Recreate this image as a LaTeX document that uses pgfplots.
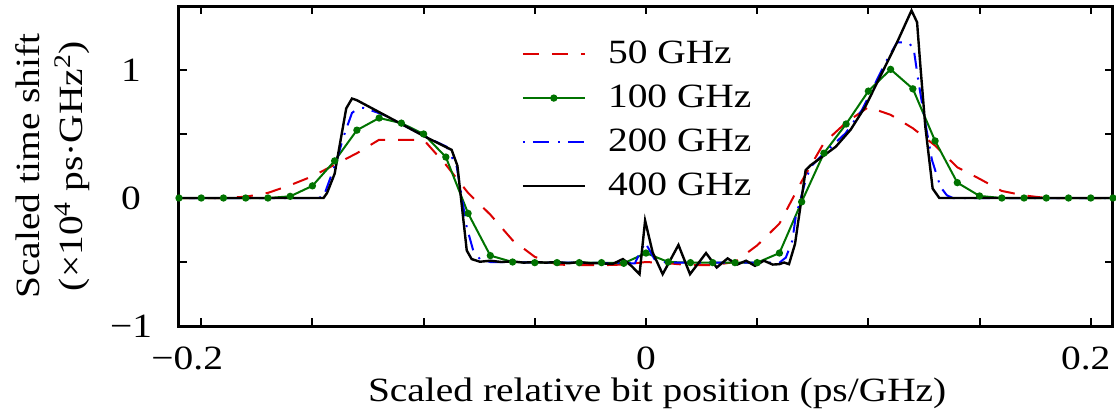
\documentclass[border=0pt]{standalone}
\usepackage{fontspec}
\setmainfont{Liberation Serif}[FakeStretch=1.16]
\usepackage{pgfplots}
\pgfplotsset{compat=1.18}
\definecolor{cred}{RGB}{220,0,0}
\definecolor{cgreen}{RGB}{0,115,0}
\definecolor{cblue}{RGB}{0,0,255}
\begin{document}
\begin{tikzpicture}
\path[use as bounding box] (-89.5pt,-44pt) rectangle (468.5pt,163pt);
\begin{axis}[
  scale only axis, width=467pt, height=160pt,
  xmin=-0.21, xmax=0.21, ymin=-1, ymax=1.5,
  font=\rmfamily\fontsize{17}{21.5}\selectfont,
  axis line style={line width=1.5pt},
  every tick/.style={black, line width=1pt},
  major tick length=4pt,
  tick align=inside,
  xtick={-0.2,-0.15,-0.1,-0.05,0,0.05,0.1,0.15,0.2},
  xticklabels={\hspace*{-7pt}−0.2\hspace*{7pt},,,,0,,,,\hspace*{-2.5pt}0.2\hspace*{2.5pt}},
  ytick={-1,-0.5,0,0.5,1},
  yticklabels={−1,,0,,1},
  xticklabel style={anchor=base, inner sep=0pt, yshift=-21.5pt},
  yticklabel style={anchor=center, xshift=-24pt},
  xlabel={Scaled relative bit position (ps/GHz)},
  xlabel style={at={(axis description cs:0.512,0)}, anchor=base, inner sep=0pt, yshift=-37.5pt},
  ylabel={Scaled time shift\\(×10\textsuperscript{4} ps·GHz\textsuperscript{2})},
  ylabel style={align=center, at={(axis description cs:-0.135,0.5)}, anchor=center},
  legend style={draw=none, fill=none, at={(axis description cs:0.36,0.926)}, anchor=north west,
    font=\rmfamily\fontsize{17}{21.5}\selectfont, row sep=2pt,
    nodes={inner xsep=6pt, inner ysep=3pt, text height=11.5pt, text depth=2.5pt},
    /tikz/every odd column/.append style={column sep=5pt}},
  legend cell align=left,
  legend image code/.code={\draw[mark repeat=2,mark phase=2,#1] plot coordinates {(0pt,0pt) (15.5pt,0pt) (31pt,0pt)};},
]
\addplot[cred, line width=1pt, dash pattern=on 8pt off 6.5pt] coordinates {
(-0.21,0) (-0.19,0) (-0.18,0.01) (-0.17,0.04) (-0.16,0.10) (-0.15,0.17) (-0.14,0.26) (-0.13,0.35)
(-0.12,0.455) (-0.11,0.455) (-0.10,0.455) (-0.09,0.26) (-0.08,0.04) (-0.07,-0.13) (-0.06,-0.33)
(-0.05,-0.46) (-0.04,-0.52) (-0.03,-0.525) (-0.02,-0.525) (-0.01,-0.52) (0,-0.50) (0.01,-0.51)
(0.02,-0.525) (0.03,-0.525) (0.04,-0.50) (0.05,-0.37) (0.06,-0.20) (0.07,0.13) (0.08,0.43)
(0.09,0.59) (0.10,0.71) (0.11,0.65) (0.12,0.545) (0.13,0.41) (0.14,0.24) (0.15,0.15)
(0.16,0.055) (0.17,0.02) (0.18,0) (0.19,0) (0.21,0)
};
\addlegendentry{50 GHz}
\addplot[cgreen, line width=1pt, mark=*, mark size=1.3pt] coordinates {
(-0.21,0) (-0.20,0) (-0.19,0) (-0.18,0) (-0.17,0) (-0.16,0.013) (-0.15,0.095) (-0.14,0.29)
(-0.13,0.53) (-0.12,0.625) (-0.11,0.585) (-0.10,0.50) (-0.09,0.32) (-0.08,-0.12) (-0.07,-0.45)
(-0.06,-0.50) (-0.05,-0.505) (-0.04,-0.505) (-0.03,-0.505) (-0.02,-0.505) (-0.01,-0.51) (0,-0.43)
(0.01,-0.50) (0.02,-0.505) (0.03,-0.505) (0.04,-0.505) (0.05,-0.505) (0.06,-0.43) (0.07,-0.03)
(0.08,0.35) (0.09,0.578) (0.10,0.835) (0.11,1.005) (0.12,0.853) (0.13,0.446) (0.14,0.12)
(0.15,0.016) (0.16,0) (0.17,0) (0.18,0) (0.19,0) (0.20,0) (0.21,0)
};
\addlegendentry{100 GHz}
\addplot[cblue, line width=1pt, dash pattern=on 1pt off 4pt on 8pt off 4.5pt] coordinates {
(-0.21,0) (-0.148,0) (-0.145,0.01) (-0.139,0.297) (-0.136,0.48) (-0.1322,0.665) (-0.1292,0.704)
(-0.127,0.704) (-0.118,0.651) (-0.1,0.486) (-0.0896,0.40) (-0.0851,0.244) (-0.0806,-0.228)
(-0.0777,-0.41) (-0.0747,-0.477) (-0.07,-0.50) (-0.005,-0.51) (-0.0004,-0.346) (0.0038,-0.477)
(0.009,-0.504) (0.06,-0.505) (0.0629,-0.465) (0.0658,-0.333) (0.0673,-0.15) (0.0718,0.139)
(0.0741,0.244) (0.0793,0.336) (0.0898,0.507) (0.0972,0.69) (0.1077,1.058) (0.1129,1.216)
(0.1181,1.216) (0.1204,1.163) (0.1226,0.90) (0.1256,0.586) (0.1286,0.297) (0.1324,0.087)
(0.1353,0.021) (0.138,0) (0.21,0)
};
\addlegendentry{200 GHz}
\addplot[black, line width=1.2pt] coordinates {
(-0.21,0) (-0.145,0) (-0.1434,0.04) (-0.140,0.19) (-0.1348,0.70) (-0.1322,0.777) (-0.130,0.764)
(-0.1,0.485) (-0.0874,0.376) (-0.0848,0.252) (-0.0806,-0.41) (-0.0784,-0.477) (-0.0747,-0.498)
(-0.07,-0.49) (-0.065,-0.50) (-0.06,-0.495) (-0.055,-0.505) (-0.05,-0.50) (-0.045,-0.505)
(-0.04,-0.50) (-0.035,-0.51) (-0.03,-0.50) (-0.025,-0.51) (-0.0209,-0.51) (-0.015,-0.515)
(-0.0104,-0.477) (-0.0066,-0.53) (-0.0029,-0.595) (-0.0004,-0.176) (0.003,-0.425) (0.0075,-0.595)
(0.0146,-0.367) (0.0198,-0.595) (0.027,-0.43) (0.0318,-0.543) (0.0367,-0.472) (0.041,-0.52)
(0.045,-0.49) (0.049,-0.53) (0.053,-0.49) (0.057,-0.52) (0.0599,-0.517) (0.0621,-0.504)
(0.0643,-0.517) (0.067,-0.36) (0.0718,0.218) (0.0741,0.257) (0.0793,0.323) (0.0853,0.40)
(0.092,0.533) (0.0987,0.717) (0.1062,0.98) (0.1129,1.216) (0.1194,1.465) (0.1219,1.373)
(0.1234,1.03) (0.1256,0.559) (0.1289,0.074) (0.1319,0) (0.21,0)
};
\addlegendentry{400 GHz}
\end{axis}
\end{tikzpicture}
\end{document}
